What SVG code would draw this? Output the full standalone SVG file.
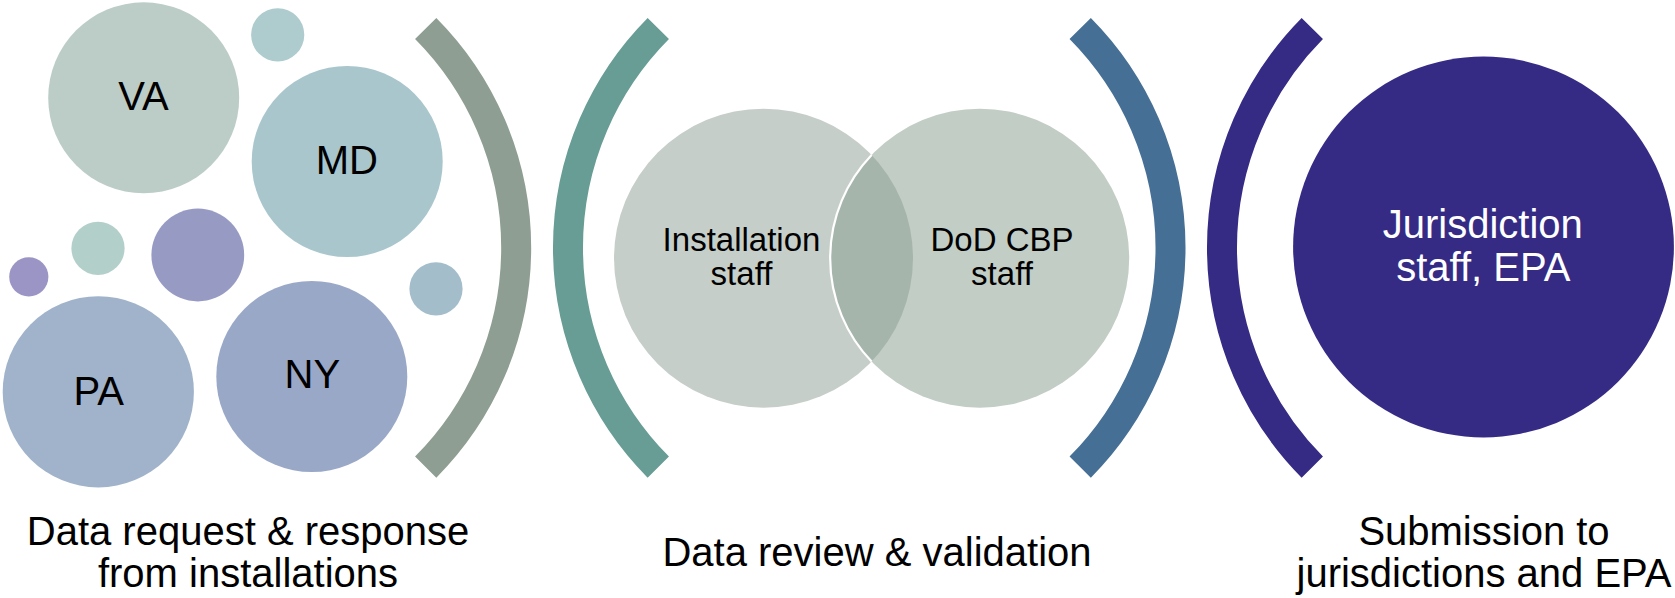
<svg xmlns="http://www.w3.org/2000/svg" width="1675" height="598" viewBox="0 0 1675 598">
  <style>
    text { font-family: "Liberation Sans", Arial, sans-serif; text-anchor: middle; }
    .state { font-size: 40px; fill: #000; }
    .venn { font-size: 33px; fill: #000; }
    .juris { font-size: 40px; fill: #fff; }
    .label { font-size: 40px; fill: #000; }
    .arc { fill: none; stroke-width: 30; stroke-linecap: butt; }
  </style>
  <defs>
    <clipPath id="clipLeft">
      <circle cx="763.5" cy="258.2" r="149.5"/>
    </clipPath>
  </defs>
  <rect width="1675" height="598" fill="#ffffff"/>

  <!-- Stage 1: installations -->
  <g id="stage1">
    <g id="node-va">
      <circle cx="143.7" cy="97.8" r="95.5" fill="#BCCDC7"/>
      <text class="state" x="143.5" y="110">VA</text>
    </g>
    <g id="bubble-top"><circle cx="277.7" cy="34.8" r="26.6" fill="#AECCCD"/></g>
    <g id="node-md">
      <circle cx="347.2" cy="161.5" r="95.5" fill="#A9C6CD"/>
      <text class="state" x="346.8" y="173.7">MD</text>
    </g>
    <g id="bubble-green"><circle cx="98" cy="248.3" r="26.6" fill="#B3CFCA"/></g>
    <g id="bubble-purple"><circle cx="197.8" cy="255" r="46.4" fill="#979BC3"/></g>
    <g id="bubble-tiny"><circle cx="28.8" cy="276.8" r="19.6" fill="#9A95C4"/></g>
    <g id="bubble-blue"><circle cx="436" cy="288.8" r="26.6" fill="#A4BDCB"/></g>
    <g id="node-pa">
      <circle cx="98.3" cy="391.8" r="95.6" fill="#A0B3CA"/>
      <text class="state" x="98.8" y="405">PA</text>
    </g>
    <g id="node-ny">
      <circle cx="311.8" cy="376.5" r="95.5" fill="#9AA8C8"/>
      <text class="state" x="312.3" y="388.3">NY</text>
    </g>
  </g>

  <!-- Stage 2: Venn -->
  <g id="stage2">
    <g id="node-installation-staff">
      <circle cx="763.5" cy="258.2" r="149.5" fill="#C6CEC9"/>
    </g>
    <g id="node-dod-cbp-staff">
      <circle cx="979.7" cy="258.2" r="149.5" fill="#C2CDC6"/>
    </g>
    <g id="venn-overlap">
      <circle cx="979.7" cy="258.2" r="149.5" fill="#A5B5AC" clip-path="url(#clipLeft)"/>
      <path d="M871.6,154.9 A149.5,149.5 0 0 0 871.6,361.5" fill="none" stroke="#ffffff" stroke-width="2.2"/>
    </g>
    <text class="venn" x="741.5" y="250.7">Installation</text>
    <text class="venn" x="741.5" y="285">staff</text>
    <text class="venn" x="1002" y="250.7">DoD CBP</text>
    <text class="venn" x="1002" y="285">staff</text>
  </g>

  <!-- Stage 3 -->
  <g id="node-jurisdiction">
    <circle cx="1483.5" cy="247" r="190.4" fill="#352B85"/>
    <text class="juris" x="1482.8" y="237.7">Jurisdiction</text>
    <text class="juris" x="1483.3" y="281">staff, EPA</text>
  </g>

  <!-- Bracket arcs -->
  <g id="connectors">
    <path class="arc" stroke="#8F9E93" d="M425.7,28.5 A311,311 0 0 1 425.7,467.1"/>
    <path class="arc" stroke="#679D94" d="M658.3,28.5 A311.4,311.4 0 0 0 658.3,467.1"/>
    <path class="arc" stroke="#466F95" d="M1080.2,28.5 A311.4,311.4 0 0 1 1080.2,467.1"/>
    <path class="arc" stroke="#352B85" d="M1312.3,28.5 A311.4,311.4 0 0 0 1312.3,467.1"/>
  </g>

  <!-- Stage labels -->
  <g id="labels">
    <text class="label" x="248" y="545">Data request &amp; response</text>
    <text class="label" x="248" y="587">from installations</text>
    <text class="label" x="877" y="566">Data review &amp; validation</text>
    <text class="label" x="1484" y="545">Submission to</text>
    <text class="label" x="1484" y="587">jurisdictions and EPA</text>
  </g>
</svg>
